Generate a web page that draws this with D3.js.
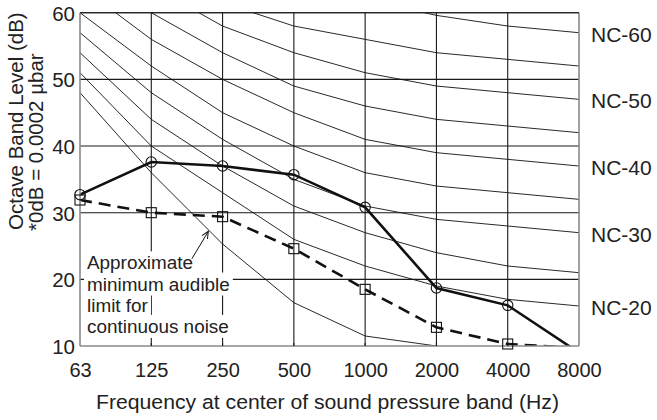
<!DOCTYPE html>
<html>
<head>
<meta charset="utf-8">
<script src="https://cdn.jsdelivr.net/npm/d3@7"></script>
<style>
  body { margin: 0; background: #fff; }
  text { font-family: "Liberation Sans", Arial, sans-serif; fill: #222; }
</style>
</head>
<body>
<div id="chart"></div>
<script>
// octave band centre frequencies (x categories)
const freqs = ["63", "125", "250", "500", "1000", "2000", "4000", "8000"];
const yTicks = [10, 20, 30, 40, 50, 60];

// NC curves, dB per octave band
const ncNames = ["NC-20", "NC-25", "NC-30", "NC-35", "NC-40", "NC-45", "NC-50", "NC-55", "NC-60"];
const nc20 = [51, 40, 33, 26, 22, 19, 17, 16];
const nc25 = [54, 44, 37, 31, 27, 24, 22, 21];
const nc30 = [57, 48, 41, 35, 31, 29, 28, 27];
const nc35 = [60, 52, 45, 40, 36, 34, 33, 32];
const nc40 = [64, 56, 50, 45, 41, 39, 38, 37];
const nc45 = [67, 60, 54, 49, 46, 44, 43, 42];
const nc50 = [71, 64, 58, 54, 51, 49, 48, 47];
const nc55 = [74, 67, 61.5, 58, 56, 54, 53, 52];
const nc60 = [77, 71, 67, 63, 62, 59.6, 58, 57];
const labelledNC = ["NC-20", "NC-30", "NC-40", "NC-50", "NC-60"];

// hearing threshold curve (thin, lowest)
const threshold = [48, 36, 25.3, 16.5, 11.5, 10, 8, 7];

// measured spectrum (solid, circles) and audible limit (dashed, squares)
const measured = [32.7, 37.6, 37.0, 35.7, 30.8, 18.7, 16.1, 9.0];
const audible = [31.9, 30.0, 29.4, 24.6, 18.5, 12.8, 10.3, 9.7];

const noteLines = ["Approximate", "minimum audible", "limit for", "continuous noise"];

const ncSeries = [nc20, nc25, nc30, nc35, nc40, nc45, nc50, nc55, nc60];

let W = 657, H = 420;
let margin = {top: 12.7, right: 78, bottom: 74, left: 80};
let width = W - margin.left - margin.right,
    height = H - margin.top - margin.bottom;

let svg = d3.select("#chart").append("svg")
  .attr("width", W).attr("height", H);

let g = svg.append("g")
  .attr("transform", "translate(" + margin.left + "," + margin.top + ")");

let x = d3.scalePoint().domain(freqs).range([0, width]);
let y = d3.scaleLinear().domain([10, 60]).range([height, 0]);

g.append("clipPath").attr("id", "plotClip")
  .append("rect").attr("width", width).attr("height", height);

// grid
g.append("g").selectAll("line")
  .data(yTicks.filter(d => d > 10))
  .enter().append("line")
  .attr("x1", 0).attr("x2", width)
  .attr("y1", d => y(d)).attr("y2", d => y(d))
  .style("stroke", "#1a1a1a").style("stroke-width", 1.1);

g.append("g").selectAll("line")
  .data(freqs.slice(1, -1))
  .enter().append("line")
  .attr("x1", d => x(d)).attr("x2", d => x(d))
  .attr("y1", 0).attr("y2", height)
  .style("stroke", "#1a1a1a").style("stroke-width", 1.1);

let plot = g.append("g").attr("clip-path", "url(#plotClip)");

let line = d3.line().x((d, i) => x(freqs[i])).y(d => y(d));

// NC curves
plot.selectAll(".nc")
  .data(ncSeries)
  .enter().append("path")
  .attr("class", "nc")
  .attr("d", line)
  .style("fill", "none").style("stroke", "#111").style("stroke-width", 0.9);

plot.append("path")
  .attr("d", line(threshold))
  .style("fill", "none").style("stroke", "#111").style("stroke-width", 0.9);

// frame
g.append("line").attr("x1", 0).attr("x2", 0).attr("y1", 0).attr("y2", height)
  .style("stroke", "#8a8a8a").style("stroke-width", 1.6);
g.append("line").attr("x1", width).attr("x2", width).attr("y1", 0).attr("y2", height)
  .style("stroke", "#8a8a8a").style("stroke-width", 1.6);
g.append("line").attr("x1", 0).attr("x2", width).attr("y1", height).attr("y2", height)
  .style("stroke", "#8a8a8a").style("stroke-width", 1.6);
g.append("line").attr("x1", 0).attr("x2", width).attr("y1", 0).attr("y2", 0)
  .style("stroke", "#1a1a1a").style("stroke-width", 1.1);

// annotation with white boxes behind each line
let note = g.append("g");
let noteX = x("63") + 7, noteY = y(21.5);
noteLines.forEach(function(t, i) {
  let txt = note.append("text")
    .attr("x", noteX).attr("y", noteY + i * 21.2)
    .style("font-size", "18.9px")
    .text(t);
  let bb = txt.node().getBBox();
  note.insert("rect", "text")
    .attr("x", bb.x - 3).attr("y", bb.y - 1)
    .attr("width", bb.width + 6).attr("height", bb.height + 2)
    .style("fill", "#fff");
});

// small ticks on bottom axis
g.append("g").selectAll("line")
  .data(freqs.slice(1, -1))
  .enter().append("line")
  .attr("x1", d => x(d)).attr("x2", d => x(d))
  .attr("y1", height - 3).attr("y2", height)
  .style("stroke", "#1a1a1a").style("stroke-width", 1.1);

// arrow
svg.append("defs").append("marker")
  .attr("id", "arrowHead")
  .attr("viewBox", "-8 -5 10 10")
  .attr("refX", 0).attr("refY", 0)
  .attr("markerWidth", 10).attr("markerHeight", 10)
  .attr("markerUnits", "userSpaceOnUse")
  .attr("orient", "auto")
  .append("path")
  .attr("d", "M-7,-3.2L0,0L-7,3.2")
  .style("fill", "none").style("stroke", "#111").style("stroke-width", 1);

let xi = d3.scaleLinear().domain([0, freqs.length - 1]).range([0, width]);
g.append("line")
  .attr("x1", xi(1.57)).attr("y1", y(23.1))
  .attr("x2", xi(1.8)).attr("y2", y(27.2))
  .attr("marker-end", "url(#arrowHead)")
  .style("stroke", "#111").style("stroke-width", 1);

// data series
plot.append("path")
  .attr("d", line(audible))
  .style("fill", "none").style("stroke", "#111").style("stroke-width", 2.6)
  .style("stroke-dasharray", "12,7");

plot.append("path")
  .attr("d", line(measured))
  .style("fill", "none").style("stroke", "#111").style("stroke-width", 2.6);

g.append("g").selectAll("rect")
  .data(audible.filter(d => d >= 10))
  .enter().append("rect")
  .attr("x", (d, i) => x(freqs[i]) - 5)
  .attr("y", d => y(d) - 5)
  .attr("width", 10).attr("height", 10)
  .style("fill", "none").style("stroke", "#111").style("stroke-width", 1.1);

g.append("g").selectAll("circle")
  .data(measured.filter(d => d >= 10))
  .enter().append("circle")
  .attr("cx", (d, i) => x(freqs[i]))
  .attr("cy", d => y(d))
  .attr("r", 5.2)
  .style("fill", "none").style("stroke", "#111").style("stroke-width", 1.1);

// axes
g.append("g")
  .call(d3.axisLeft(y).tickValues(yTicks).tickSize(0).tickPadding(5))
  .call(a => a.select(".domain").remove())
  .selectAll("text")
  .style("font-size", "20.5px").attr("dy", "0.36em");

g.append("g")
  .attr("transform", "translate(0," + height + ")")
  .call(d3.axisBottom(x).tickSize(0))
  .call(a => a.select(".domain").remove())
  .selectAll("text")
  .style("font-size", "20px").attr("y", 31).attr("dy", 0);

// NC labels at right
g.append("g").selectAll("text")
  .data(labelledNC)
  .enter().append("text")
  .attr("x", width + 12)
  .attr("y", d => y(ncSeries[ncNames.indexOf(d)][freqs.length - 1]) + 1.5)
  .attr("dy", "0.36em")
  .style("font-size", "21px")
  .text(d => d);

// axis titles
svg.append("text")
  .attr("x", 96).attr("y", 409)
  .attr("textLength", 463).attr("lengthAdjust", "spacingAndGlyphs")
  .style("font-size", "20.5px")
  .text("Frequency at center of sound pressure band (Hz)");

svg.append("text")
  .attr("transform", "translate(23,230) rotate(-90)")
  .style("font-size", "20.5px")
  .text("Octave Band Level (dB)");

svg.append("text")
  .attr("transform", "translate(43,231) rotate(-90)")
  .style("font-size", "20.5px")
  .text("*0dB = 0.0002 µbar");
</script>
</body>
</html>
